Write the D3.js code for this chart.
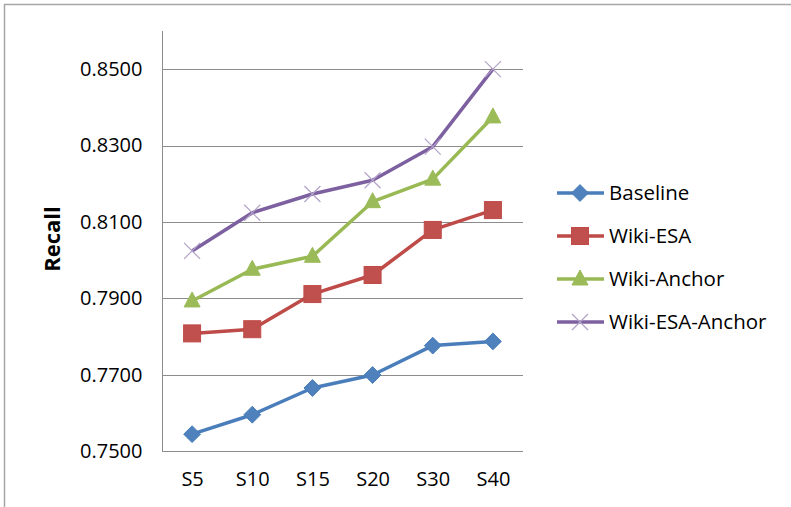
<!DOCTYPE html>
<html>
<head>
<meta charset="utf-8">
<script src="https://cdn.jsdelivr.net/npm/d3@7"></script>
<style>
  html, body { margin: 0; padding: 0; background: #fff; }
  svg { display: block; }
  text { font-family: "Open Sans", "Liberation Sans", sans-serif; fill: #000; }
</style>
</head>
<body>
<svg id="chart" width="791" height="507"></svg>
<script>
// Recall per sample size for each retrieval variant
const categories = ["S5", "S10", "S15", "S20", "S30", "S40"];
const baseline     = [0.7544, 0.7595, 0.7665, 0.7699, 0.7776, 0.7787];
const wikiESA      = [0.7808, 0.7819, 0.7911, 0.7961, 0.8079, 0.8131];
const wikiAnchor   = [0.7893, 0.7976, 0.8010, 0.8153, 0.8212, 0.8375];
const wikiESAAnchor = [0.8024, 0.8124, 0.8173, 0.8209, 0.8297, 0.8500];
const yTicks = [0.75, 0.77, 0.79, 0.81, 0.83, 0.85];
const seriesNames = ["Baseline", "Wiki-ESA", "Wiki-Anchor", "Wiki-ESA-Anchor"];

const series = [
  { name: seriesNames[0], values: baseline,      line: "#4A7EBB", fill: "#4F81BD", marker: "diamond" },
  { name: seriesNames[1], values: wikiESA,       line: "#BE4B48", fill: "#C0504D", marker: "square" },
  { name: seriesNames[2], values: wikiAnchor,    line: "#98B954", fill: "#9BBB59", marker: "triangle" },
  { name: seriesNames[3], values: wikiESAAnchor, line: "#7D60A0", fill: "#B3A2C7", marker: "x" }
];

const svg = d3.select("#chart");
const plot = { left: 162, right: 523, top: 31, bottom: 451 };

const x = d3.scalePoint().domain(categories).range([plot.left, plot.right]).padding(0.5);
const y = d3.scaleLinear().domain([0.75, 0.86]).range([plot.bottom, plot.top]);

// outer chart frame (top and left edges)
svg.append("path")
  .attr("d", "M4.5,507 L4.5,4.5 L791,4.5")
  .attr("fill", "none").attr("stroke", "#a6a6a6").attr("stroke-width", 1.5);

// horizontal gridlines
svg.append("g").selectAll("line")
  .data(yTicks.slice(1))
  .join("line")
  .attr("x1", plot.left).attr("x2", plot.right)
  .attr("y1", d => Math.round(y(d)) + 0.5).attr("y2", d => Math.round(y(d)) + 0.5)
  .attr("stroke", "#8c8c8c").attr("stroke-width", 1);

// y axis
const yAxis = svg.append("g")
  .attr("transform", `translate(${plot.left + 0.5},0)`)
  .call(d3.axisLeft(y).tickValues(yTicks).tickFormat(d3.format(".4f")).tickSize(0).tickPadding(20));
yAxis.select(".domain").attr("stroke", "#8c8c8c").attr("d", `M0,${plot.top}V${plot.bottom + 0.5}`);
yAxis.selectAll("text").style("font-size", "20px").style("font-family", "\"Open Sans\", sans-serif").attr("fill", "#000");

// x axis
const xAxis = svg.append("g")
  .attr("transform", `translate(0,${plot.bottom + 0.5})`)
  .call(d3.axisBottom(x).tickSize(0).tickPadding(20));
xAxis.select(".domain").attr("stroke", "#8c8c8c").attr("d", `M${plot.left},0H${plot.right}`);
xAxis.selectAll("text").style("font-size", "20px").style("font-family", "\"Open Sans\", sans-serif").attr("fill", "#000");

// y axis title
svg.append("text")
  .attr("transform", `translate(60,${(plot.top + plot.bottom) / 2 - 2}) rotate(-90)`)
  .attr("text-anchor", "middle")
  .style("font-size", "22px").style("font-weight", "bold")
  .text("Recall");

function drawMarker(g, type, s) {
  if (type === "diamond") {
    g.append("path").attr("d", d3.symbol(d3.symbolDiamond2, 180)())
      .attr("fill", s.fill).attr("stroke", s.line).attr("stroke-width", 1);
  } else if (type === "square") {
    g.append("rect").attr("x", -8.5).attr("y", -8.5).attr("width", 17).attr("height", 17)
      .attr("fill", s.fill).attr("stroke", s.line).attr("stroke-width", 1);
  } else if (type === "triangle") {
    g.append("path").attr("d", "M0,-9 L8,6 L-8,6 Z")
      .attr("fill", s.fill).attr("stroke", s.fill).attr("stroke-width", 1);
  } else {
    g.append("path").attr("d", "M-8,-8 L8,8 M-8,8 L8,-8")
      .attr("fill", "none").attr("stroke", s.fill).attr("stroke-width", 1.2);
  }
}

const line = d3.line().x((d, i) => x(categories[i])).y(d => y(d));

series.forEach(s => {
  const g = svg.append("g");
  g.append("path").datum(s.values)
    .attr("d", line)
    .attr("fill", "none").attr("stroke", s.line).attr("stroke-width", 3.5)
    .attr("stroke-linejoin", "round");
  s.values.forEach((v, i) => {
    const m = g.append("g").attr("transform", `translate(${x(categories[i])},${y(v)})`);
    drawMarker(m, s.marker, s);
  });
});

// legend
const legend = svg.append("g");
const legendY = d3.scalePoint().domain(seriesNames).range([193, 322]);
series.forEach(s => {
  const ly = legendY(s.name);
  const g = legend.append("g").attr("transform", `translate(0,${ly})`);
  g.append("line").attr("x1", 557).attr("x2", 604).attr("y1", 0).attr("y2", 0)
    .attr("stroke", s.line).attr("stroke-width", 3.5);
  const m = g.append("g").attr("transform", "translate(580,0)");
  drawMarker(m, s.marker, s);
  g.append("text").attr("x", 609).attr("y", 0).attr("dy", "0.35em")
    .style("font-size", "20.5px").text(s.name);
});
</script>
</body>
</html>
